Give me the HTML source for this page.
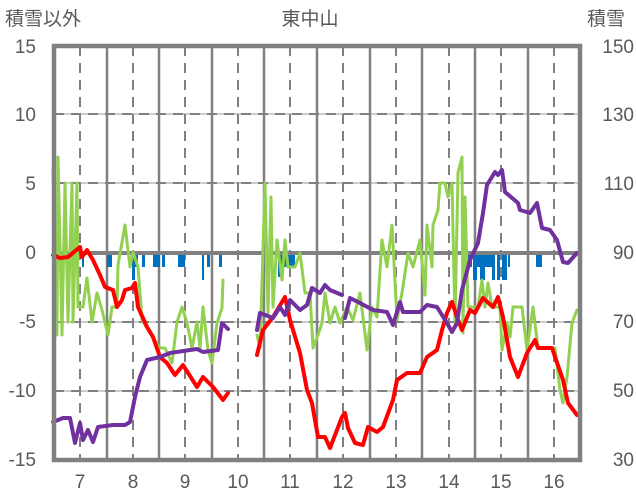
<!DOCTYPE html>
<html><head><meta charset="utf-8"><style>
html,body{margin:0;padding:0;background:#fff;}
svg{display:block;}
text{font-family:"Liberation Sans","Noto Sans CJK JP",sans-serif;fill:#595959;font-size:19px;}
</style></head><body>
<svg width="636" height="501" viewBox="0 0 636 501" xmlns="http://www.w3.org/2000/svg">
<rect width="636" height="501" fill="#fff"/>
<!-- horizontal dashed grid -->
<g stroke="#bbb" stroke-width="1.5"><line x1="54" y1="114" x2="580" y2="114"/><line x1="54" y1="183" x2="580" y2="183"/><line x1="54" y1="322" x2="580" y2="322"/><line x1="54" y1="391" x2="580" y2="391"/></g>
<g stroke="#808080" stroke-width="2" stroke-dasharray="10,7"><line x1="54" y1="114" x2="580" y2="114"/><line x1="54" y1="183" x2="580" y2="183"/><line x1="54" y1="322" x2="580" y2="322"/><line x1="54" y1="391" x2="580" y2="391"/></g>
<!-- vertical dashed -->
<g stroke="#808080" stroke-width="2" stroke-dasharray="10,7">
<line x1="80" y1="46" x2="80" y2="460"/><line x1="133" y1="46" x2="133" y2="460"/><line x1="185" y1="46" x2="185" y2="460"/><line x1="238" y1="46" x2="238" y2="460"/><line x1="290" y1="46" x2="290" y2="460"/><line x1="343" y1="46" x2="343" y2="460"/><line x1="396" y1="46" x2="396" y2="460"/><line x1="449" y1="46" x2="449" y2="460"/><line x1="501" y1="46" x2="501" y2="460"/><line x1="554" y1="46" x2="554" y2="460"/></g>
<!-- vertical solid -->
<g stroke="#808080" stroke-width="2.5">
<line x1="107" y1="46" x2="107" y2="460"/><line x1="159" y1="46" x2="159" y2="460"/><line x1="212" y1="46" x2="212" y2="460"/><line x1="264" y1="46" x2="264" y2="460"/><line x1="317" y1="46" x2="317" y2="460"/><line x1="370" y1="46" x2="370" y2="460"/><line x1="422" y1="46" x2="422" y2="460"/><line x1="475" y1="46" x2="475" y2="460"/><line x1="528" y1="46" x2="528" y2="460"/></g>
<line x1="54" y1="253" x2="580" y2="253" stroke="#808080" stroke-width="4"/>
<!-- blue bars -->
<g fill="#0070c0">
<rect x="82" y="255" width="2" height="12"/><rect x="107" y="255" width="5" height="12"/><rect x="132" y="255" width="3" height="25"/><rect x="135" y="255" width="3" height="12"/><rect x="142" y="255" width="3" height="12"/><rect x="153" y="255" width="7" height="12"/><rect x="162" y="255" width="3" height="12"/><rect x="178" y="255" width="7" height="12"/><rect x="202" y="255" width="2" height="25"/><rect x="207" y="255" width="3" height="12"/><rect x="219" y="255" width="3" height="12"/>
<rect x="278" y="255" width="4" height="22"/><rect x="282" y="255" width="13" height="12"/>
<rect x="453" y="255" width="2" height="12"/><rect x="467" y="255" width="5" height="12"/><rect x="473" y="255" width="4" height="25"/><rect x="477" y="255" width="3" height="12"/><rect x="480" y="255" width="5" height="25"/><rect x="485" y="255" width="7" height="12"/><rect x="492" y="255" width="3" height="25"/><rect x="497" y="255" width="3" height="25"/><rect x="502" y="255" width="5" height="25"/><rect x="508" y="255" width="2" height="12"/><rect x="536" y="255" width="6" height="12"/>
</g>
<g fill="none" stroke-linejoin="round" stroke-linecap="round">
<!-- green -->
<polyline stroke="#92d050" stroke-width="3" points="53,170 57,335 58,157 62,335 65,183 68,322 72,183 73,322 77,183 78,307 83,307 87,278 92,322 97,293 102,310 108,335 112,307 117,307 118,265 125,225 130,267 133,252 138,267 142,320 150,333 160,348 165,348 172,363 177,322 182,307 187,323 192,348 197,322 200,348 203,307 208,350 212,363 217,323 222,308 223,280"/>
<polyline stroke="#92d050" stroke-width="3" points="257,335 260,348 265,183 268,313 271,197 273,307 277,240 282,280 285,240 288,267 295,267 300,253 305,293 310,293 313,348 318,335 322,323 325,293 330,323 335,307 340,323 347,307 353,320 360,293 367,350 372,307 377,317 382,240 387,267 392,225 397,320 402,293 408,253 413,267 420,240 425,295 427,225 432,267 433,225 438,210 440,183 445,183 448,197 452,183 455,323 458,173 462,157 463,333 465,197 468,307 473,307 478,307 482,280 485,307 488,283 492,307 500,307 502,350 507,323 510,337 513,307 522,307 527,350 533,307 538,348 555,348 560,390 563,403 567,377 572,323 577,310"/>
<!-- red -->
<polyline stroke="#ff0000" stroke-width="4" points="53,255 60,258 68,257 80,247 82,257 87,250 93,260 100,275 105,287 113,290 117,307 122,300 125,290 132,288 135,283 138,307 147,327 153,337 160,357 167,363 175,375 183,365 197,387 203,377 213,387 223,400 228,393"/>
<polyline stroke="#ff0000" stroke-width="4" points="257,355 263,330 273,317 285,297 290,320 300,353 307,390 312,403 318,437 325,437 330,448 342,417 345,413 348,428 355,443 363,445 368,427 377,432 383,427 393,400 397,380 407,373 420,373 427,357 437,350 442,330 447,313 452,302 457,317 462,330 470,310 475,313 483,298 493,307 498,297 503,317 510,357 518,377 527,353 535,340 538,348 552,348 563,380 568,403 577,415"/>
<!-- purple -->
<polyline stroke="#7030a0" stroke-width="4" points="53,422 63,418 70,418 75,443 80,423 83,440 88,430 93,442 98,427 113,425 125,425 130,422 135,397 140,377 147,360 160,357 170,353 190,350 197,349 203,352 218,350 222,323 228,329"/>
<polyline stroke="#7030a0" stroke-width="4" points="257,330 260,313 273,318 280,307 285,315 290,300 300,310 307,305 312,288 320,293 325,285 330,290 342,295"/>
<polyline stroke="#7030a0" stroke-width="4" points="345,318 350,298 360,303 373,310 387,312 393,325 400,302 403,312 420,312 427,305 437,307 447,323 452,332 457,323 462,290 470,260 478,243 483,213 487,185 495,172 498,175 502,170 505,192 518,203 520,210 530,213 537,203 542,228 550,230 557,240 563,262 568,263 577,253"/>
</g>
<!-- frame -->
<rect x="54" y="46" width="526" height="414" fill="none" stroke="#808080" stroke-width="4.5"/>
<!-- labels -->
<text x="5" y="25">積雪以外</text>
<text x="310" y="25" text-anchor="middle">東中山</text>
<text x="587" y="25">積雪</text>
<g text-anchor="end"><text x="36" y="53">15</text><text x="36" y="121">10</text><text x="36" y="190">5</text><text x="36" y="259">0</text><text x="36" y="328">-5</text><text x="36" y="397">-10</text><text x="36" y="466">-15</text></g>
<g text-anchor="end"><text x="634" y="53">150</text><text x="634" y="121">130</text><text x="634" y="190">110</text><text x="634" y="259">90</text><text x="634" y="328">70</text><text x="634" y="397">50</text><text x="634" y="466">30</text></g>
<g text-anchor="middle"><text x="80" y="488">7</text><text x="133" y="488">8</text><text x="185" y="488">9</text><text x="238" y="488">10</text><text x="290" y="488">11</text><text x="343" y="488">12</text><text x="396" y="488">13</text><text x="449" y="488">14</text><text x="501" y="488">15</text><text x="554" y="488">16</text></g>
</svg>
</body></html>
